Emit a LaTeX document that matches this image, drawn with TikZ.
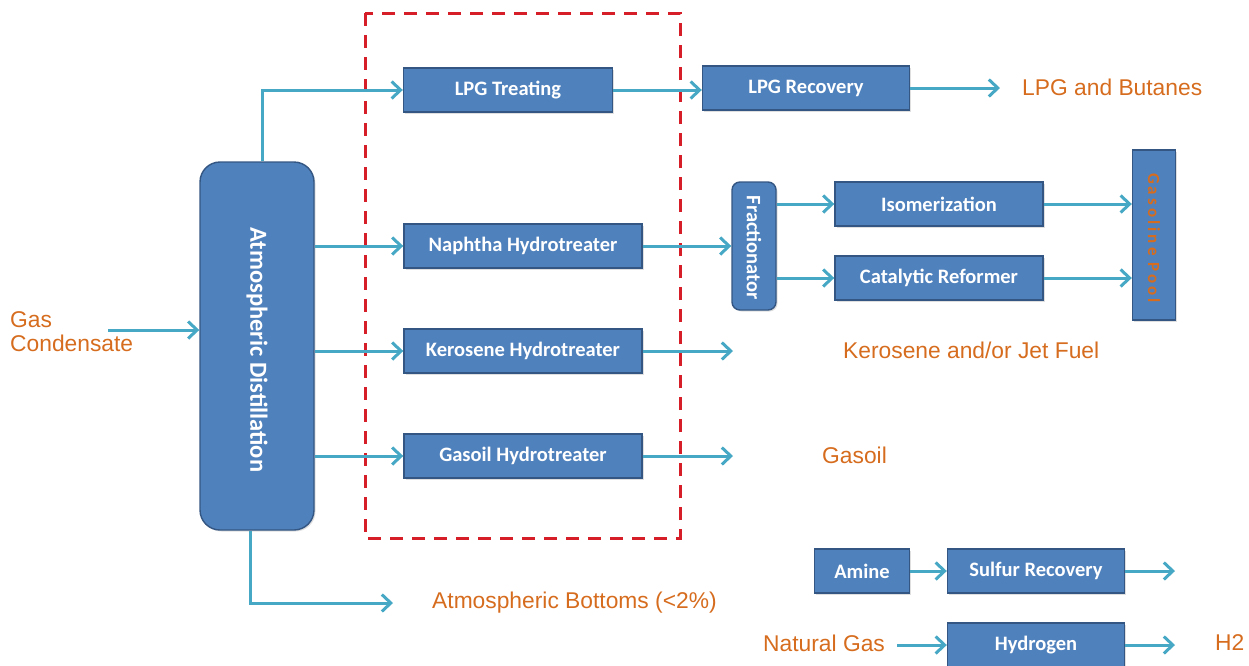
\documentclass[tikz,border=0pt]{standalone}
\usepackage{fontspec}
\setmainfont{Liberation Sans}
\newfontfamily\boxfont{Carlito}
\newfontfamily\poolfont[LetterSpace=18]{Carlito}
\usetikzlibrary{arrows.meta,shadows}
\definecolor{boxblue}{RGB}{79,129,189}
\definecolor{boxedge}{RGB}{52,86,130}
\definecolor{flowc}{RGB}{70,168,196}
\definecolor{orangec}{RGB}{214,108,30}
\definecolor{dashred}{RGB}{214,30,40}
\tikzset{
  unitbox/.style={draw=boxedge, line width=1.4pt, fill=boxblue, text=white,
    font=\boxfont\bfseries\fontsize{20.5}{24}\selectfont, inner sep=0pt,
    drop shadow={opacity=0.25, shadow xshift=1.5pt, shadow yshift=-1.5pt}},
  flow/.style={draw=flowc, line width=3pt,
    -{Straight Barb[length=9pt,width=17pt]}},
  outtext/.style={text=orangec, font=\fontsize{22.8}{24}\selectfont, inner sep=0pt, anchor=west},
  dashbox/.style={draw=dashred, line width=3pt, dash pattern=on 13pt off 9pt}
}
\begin{document}
\begin{tikzpicture}[x=1pt,y=-1pt]
\useasboundingbox (0,0) rectangle (1249,665);
% dashed region
\draw[dashbox] (365,13) rectangle (680,538);
% units
\node[unitbox, minimum width=114pt, minimum height=368pt, rounded corners=20pt] (adu) at (257,346) {};
\node[text=white, font=\boxfont\bfseries\fontsize{24.5}{28}\selectfont, rotate=-90] (adutext) at (257,350) {Atmospheric Distillation};
\node[unitbox, minimum width=209pt, minimum height=44pt] (lpgt) at (508,90) {LPG Treating};
\node[unitbox, minimum width=207pt, minimum height=44pt] (lpgr) at (806,88) {LPG Recovery};
\node[unitbox, minimum width=238pt, minimum height=44pt] (nht) at (523,246) {Naphtha Hydrotreater};
\node[unitbox, minimum width=238pt, minimum height=44pt] (kht) at (523,351) {Kerosene Hydrotreater};
\node[unitbox, minimum width=238pt, minimum height=44pt] (ght) at (523,456) {Gasoil Hydrotreater};
\node[unitbox, minimum width=44pt, minimum height=128pt, rounded corners=8pt] (frac) at (754,246) {};
\node[text=white, font=\boxfont\bfseries\fontsize{20.5}{24}\selectfont, rotate=-90] (fractext) at (754,248) {Fractionator};
\node[unitbox, minimum width=208pt, minimum height=44pt] (isom) at (939,204) {Isomerization};
\node[unitbox, minimum width=208pt, minimum height=44pt] (ccr) at (939,278) {Catalytic Reformer};
\node[unitbox, minimum width=43pt, minimum height=170pt] (gpool) at (1154,235) {};
\node[text=orangec, font=\poolfont\bfseries\fontsize{17}{20}\selectfont, rotate=-90] (gpooltext) at (1154,238) {Gasoline Pool};
\node[unitbox, minimum width=95pt, minimum height=44pt] (amine) at (862,571) {Amine};
\node[unitbox, minimum width=177pt, minimum height=44pt] (sru) at (1036,571) {Sulfur Recovery};
\node[unitbox, minimum width=177pt, minimum height=44pt] (hyd) at (1036,645) {Hydrogen};
% texts
\node[outtext] (feed) at (10,335) {\begin{tabular}{@{}l@{}}Gas\\Condensate\end{tabular}};
\node[outtext] (lpgout) at (1022,87) {LPG and Butanes};
\node[outtext] (kerout) at (843,350) {Kerosene and/or Jet Fuel};
\node[outtext] (gasoilout) at (822,455) {Gasoil};
\node[outtext] (botout) at (432,603) {Atmospheric Bottoms (<2\%)};
\node[outtext] (ngas) at (763,643) {Natural Gas};
\node[outtext] (h2out) at (1215,643) {H2};
% free ends
\coordinate (feedstart) at (108,330);
\coordinate (lpgend) at (1000,88);
\coordinate (kerend) at (733,351);
\coordinate (gasoilend) at (733,456);
\coordinate (botend) at (393,603);
\coordinate (sruend) at (1175,571);
\coordinate (h2end) at (1175,645);
\coordinate (ngstart) at (897,645);
% connectors
\draw[flow] (feedstart) -- (feedstart -| adu.west);
\draw[flow] ([xshift=5pt]adu.north) |- (lpgt.west);
\draw[flow] (lpgt.east) -- (lpgt.east -| lpgr.west);
\draw[flow] (lpgr.east) -- (lpgend);
\draw[flow] (adu.east |- nht.west) -- (nht.west);
\draw[flow] (adu.east |- kht.west) -- (kht.west);
\draw[flow] (adu.east |- ght.west) -- (ght.west);
\draw[flow] (nht.east) -- (frac.west);
\draw[flow] (frac.east |- isom.west) -- (isom.west);
\draw[flow] (frac.east |- ccr.west) -- (ccr.west);
\draw[flow] (isom.east) -- (isom.east -| gpool.west);
\draw[flow] (ccr.east) -- (ccr.east -| gpool.west);
\draw[flow] (kht.east) -- (kerend);
\draw[flow] (ght.east) -- (gasoilend);
\draw[flow] ([xshift=-7pt]adu.south) |- (botend);
\draw[flow] (amine.east) -- (sru.west);
\draw[flow] (sru.east) -- (sruend);
\draw[flow] (ngstart) -- (hyd.west);
\draw[flow] (hyd.east) -- (h2end);
\end{tikzpicture}
\end{document}
